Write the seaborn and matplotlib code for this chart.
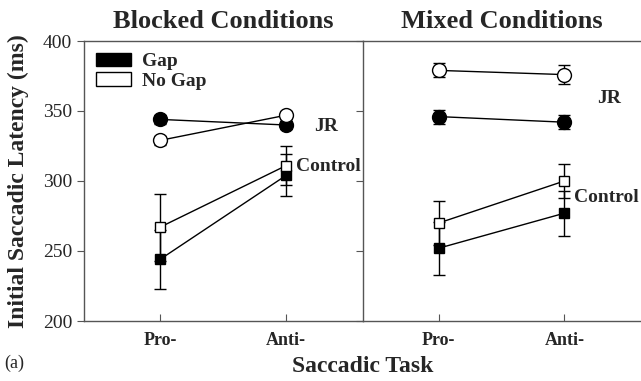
import numpy as np
import pandas as pd
import matplotlib
matplotlib.use("Agg")
import matplotlib.pyplot as plt
import seaborn as sns
from matplotlib.patches import Patch

# Saccadic latency (ms) per task
tasks = ["Pro-", "Anti-"]
panels = ["Blocked Conditions", "Mixed Conditions"]

# blocked
blocked_jr_gap = [344, 340]
blocked_jr_gap_err = [3, 3]
blocked_jr_nogap = [329, 347]
blocked_jr_nogap_err = [3, 3]
blocked_ctl_gap = [244, 304]
blocked_ctl_gap_err = [21, 15]
blocked_ctl_nogap = [267, 311]
blocked_ctl_nogap_err = [24, 14]

# mixed
mixed_jr_gap = [346, 342]
mixed_jr_gap_err = [5, 5]
mixed_jr_nogap = [379, 376]
mixed_jr_nogap_err = [5, 7]
mixed_ctl_gap = [252, 277]
mixed_ctl_gap_err = [19, 16]
mixed_ctl_nogap = [270, 300]
mixed_ctl_nogap_err = [16, 12]

rows = []
for panel, groups in [
    ("Blocked Conditions", [("JR", "Gap", blocked_jr_gap, blocked_jr_gap_err),
                            ("JR", "No Gap", blocked_jr_nogap, blocked_jr_nogap_err),
                            ("Control", "Gap", blocked_ctl_gap, blocked_ctl_gap_err),
                            ("Control", "No Gap", blocked_ctl_nogap, blocked_ctl_nogap_err)]),
    ("Mixed Conditions", [("JR", "Gap", mixed_jr_gap, mixed_jr_gap_err),
                          ("JR", "No Gap", mixed_jr_nogap, mixed_jr_nogap_err),
                          ("Control", "Gap", mixed_ctl_gap, mixed_ctl_gap_err),
                          ("Control", "No Gap", mixed_ctl_nogap, mixed_ctl_nogap_err)]),
]:
    for subj, cond, vals, errs in groups:
        for i, (v, e) in enumerate(zip(vals, errs)):
            rows.append(dict(panel=panel, subject=subj, condition=cond,
                             task=tasks[i], pos=i, latency=v, err=e))
df = pd.DataFrame(rows)

# label positions (data coords) for the group names
label_pos = {
    "Blocked Conditions": [("JR", 1.22, 339), ("Control", 1.08, 310)],
    "Mixed Conditions": [("JR", 1.26, 359), ("Control", 1.08, 288)],
}

sns.set_style("ticks")
plt.rcParams['font.family'] = ['Liberation Serif', 'DejaVu Serif']

fig = plt.figure(figsize=(6.41, 3.81), dpi=100)
ax1 = fig.add_axes([84 / 641, 60 / 381, 279 / 641, 280 / 381])
ax2 = fig.add_axes([363 / 641, 60 / 381, 278 / 641, 280 / 381], sharey=ax1)

spine_col = "#555555"
for ax, panel in zip([ax1, ax2], panels):
    sub = df[df["panel"] == panel]
    for (subj, cond), g in sub.groupby(["subject", "condition"]):
        marker = "o" if subj == "JR" else "s"
        ms = 10 if subj == "JR" else 7.5
        face = "black" if cond == "Gap" else "white"
        ax.errorbar(g["pos"], g["latency"], yerr=g["err"], fmt="none",
                    ecolor="black", elinewidth=1, capsize=4.5, capthick=1, zorder=2)
        sns.lineplot(data=g, x="pos", y="latency", ax=ax, color="black",
                     linewidth=1, marker=marker, markersize=ms,
                     markerfacecolor=face, markeredgecolor="black",
                     markeredgewidth=1, zorder=3, legend=False)
    for txt, x, y in label_pos[panel]:
        ax.text(x, y, txt, fontsize=14, fontweight="bold", va="center", ha="left")

    ax.set_xlim(-0.603, 1.61)
    ax.set_ylim(200, 400)
    ax.set_xticks([0, 1])
    ax.set_xticklabels(tasks, fontsize=13, fontweight="bold")
    ax.set_xlabel("")
    ax.set_ylabel("")
    ax.set_title(panel, fontsize=19, fontweight="bold", pad=9)
    ax.tick_params(axis="x", direction="in", length=5, color=spine_col, pad=8)
    ax.tick_params(axis="y", direction="out", length=5, color=spine_col)
    for s in ax.spines.values():
        s.set_color(spine_col)
        s.set_linewidth(1)

ax1.spines["right"].set_visible(False)
ax2.spines["right"].set_visible(False)
ax1.set_yticks([200, 250, 300, 350, 400])
ax1.tick_params(axis="y", labelsize=14)
ax2.tick_params(axis="y", labelleft=False)
ax1.set_ylabel("Initial Saccadic Latency (ms)", fontsize=17, fontweight="bold", labelpad=10)

handles = [Patch(facecolor="black", edgecolor="black", label="Gap"),
           Patch(facecolor="white", edgecolor="black", label="No Gap")]
leg = ax1.legend(handles=handles, loc="upper left", frameon=False,
                 prop={"size": 14, "weight": "bold"}, handlelength=1.8,
                 handleheight=0.7, borderaxespad=0.2, labelspacing=0.1,
                 handletextpad=0.6)

fig.text(363 / 641, 14 / 381, "Saccadic Task", fontsize=17, fontweight="bold",
         ha="center", va="center")
fig.text(14 / 641, 18 / 381, "(a)", fontsize=13, ha="center", va="center")

fig.savefig("out.png", dpi=100)
